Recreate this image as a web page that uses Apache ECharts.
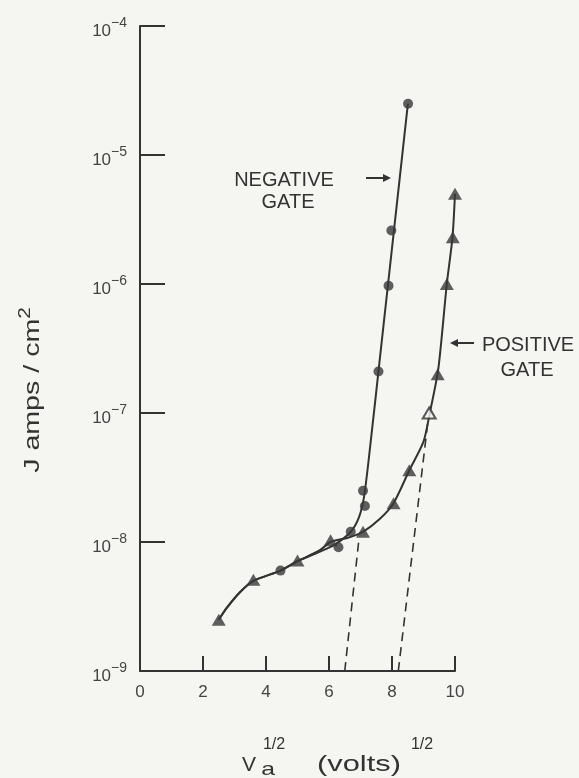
<!DOCTYPE html>
<html>
<head>
<meta charset="utf-8">
<script src="https://cdn.jsdelivr.net/npm/echarts@6/dist/echarts.min.js"></script>
<style>
html,body{margin:0;padding:0;background:#f5f5f2;}
#chart{width:579px;height:778px;}
</style>
</head>
<body>
<div id="chart"></div>
<script>
// decades on the J axis (10^-9 .. 10^-4)
var decades = [-9, -8, -7, -6, -5, -4];
var vTicks = [0, 2, 4, 6, 8, 10];

// drawn curves (V^1/2, J)
var negCurveV = [2.5, 2.76, 3.18, 3.6, 4.46, 5.0, 5.7, 6.2, 6.69, 6.95, 7.12, 7.34, 7.57, 7.875, 8.19, 8.505];
var negCurveJ = [2.5e-9, 3.1e-9, 4.1e-9, 5.0e-9, 6.0e-9, 7.1e-9, 8.4e-9, 9.6e-9, 1.2e-8, 1.55e-8, 2.3e-8, 6.5e-8, 2.1e-7, 1.0e-6, 5.0e-6, 2.5e-5];
var posCurveV = [2.5, 2.76, 3.18, 3.6, 4.46, 5.0, 5.7, 6.05, 6.6, 7.08, 7.6, 8.05, 8.55, 9.0, 9.2, 9.47, 9.74, 9.92, 10.0];
var posCurveJ = [2.5e-9, 3.1e-9, 4.1e-9, 5.0e-9, 6.0e-9, 7.1e-9, 8.6e-9, 1.0e-8, 1.08e-8, 1.2e-8, 1.5e-8, 2.0e-8, 3.6e-8, 6.0e-8, 1.0e-7, 2.2e-7, 1.0e-6, 2.3e-6, 5.0e-6];

// plotted points
var dotV = [4.46, 6.3, 6.69, 7.14, 7.08, 7.57, 7.89, 7.98, 8.51];
var dotJ = [6.0e-9, 9.1e-9, 1.2e-8, 1.9e-8, 2.5e-8, 2.1e-7, 9.7e-7, 2.6e-6, 2.5e-5];
var triV = [2.5, 3.6, 5.0, 6.05, 7.08, 8.05, 8.55, 9.45, 9.74, 9.93, 10.0];
var triJ = [2.5e-9, 5.1e-9, 7.2e-9, 1.03e-8, 1.2e-8, 2.0e-8, 3.6e-8, 2.0e-7, 1.0e-6, 2.3e-6, 5.0e-6];
var openTriV = [9.18];
var openTriJ = [1.0e-7];

// dashed extrapolations
var negDashV = [6.5, 6.95];
var negDashJ = [1e-9, 1.05e-8];
var posDashV = [8.2, 9.15];
var posDashJ = [1e-9, 9e-8];

function pts(xs, ys) {
  return xs.map(function (x, i) { return [x, ys[i]]; });
}

var ink = '#333333';
var paper = '#f5f5f2';
var face = '"Liberation Sans", Arial, sans-serif';

function txt(s, x, y, size, extra) {
  var el = {
    type: 'text', x: x, y: y, z: 10,
    style: {
      text: s, font: size + 'px ' + face, fill: ink,
      align: 'center', verticalAlign: 'middle',
      textAlign: 'center', textVerticalAlign: 'middle'
    }
  };
  if (extra) for (var k in extra) el[k] = extra[k];
  return el;
}

var chart = echarts.init(document.getElementById('chart'));
chart.setOption({
  backgroundColor: paper,
  animation: false,
  grid: { left: 140, right: 124, top: 26, bottom: 107, outerBoundsMode: 'none' },
  xAxis: {
    type: 'value', min: vTicks[0], max: vTicks[vTicks.length - 1], interval: 2,
    axisLine: { lineStyle: { color: ink, width: 2 } },
    axisTick: { inside: true, length: 15, lineStyle: { color: ink, width: 2 } },
    axisLabel: { color: '#444', fontSize: 17, fontFamily: face, margin: 13 },
    splitLine: { show: false }
  },
  yAxis: {
    type: 'log', logBase: 10,
    min: Math.pow(10, decades[0]), max: Math.pow(10, decades[decades.length - 1]),
    axisLine: { lineStyle: { color: ink, width: 2 } },
    axisTick: { inside: true, length: 25, lineStyle: { color: ink, width: 2 } },
    minorTick: { show: false },
    splitLine: { show: false },
    axisLabel: {
      margin: 13,
      padding: [10, 0, 0, 0],
      formatter: function (v) {
        var e = Math.round(Math.log10(v));
        return '{b|10}{e|\u2212' + Math.abs(e) + '}';
      },
      rich: {
        b: { fontSize: 17, fontFamily: face, color: '#444', lineHeight: 30 },
        e: { fontSize: 14, fontFamily: face, color: '#444', lineHeight: 15, verticalAlign: 'top' }
      }
    }
  },
  series: [
    { name: 'NEGATIVE GATE', type: 'line', data: pts(negCurveV, negCurveJ), smooth: 0.25,
      showSymbol: false, lineStyle: { color: ink, width: 2 }, z: 2 },
    { name: 'POSITIVE GATE', type: 'line', data: pts(posCurveV, posCurveJ), smooth: 0.25,
      showSymbol: false, lineStyle: { color: ink, width: 2 }, z: 2 },
    { type: 'line', data: pts(negDashV, negDashJ), showSymbol: false,
      lineStyle: { color: ink, width: 1.6, type: [9, 6] }, z: 1 },
    { type: 'line', data: pts(posDashV, posDashJ), showSymbol: false,
      lineStyle: { color: ink, width: 1.6, type: [9, 6] }, z: 1 },
    { type: 'scatter', data: pts(dotV, dotJ), symbol: 'circle', symbolSize: 10,
      itemStyle: { color: '#383838' }, z: 5 },
    { type: 'scatter', data: pts(triV, triJ), symbol: 'triangle', symbolSize: [14, 12],
      itemStyle: { color: '#383838' }, z: 5 },
    { type: 'scatter', data: pts(openTriV, openTriJ), symbol: 'triangle', symbolSize: [13, 11],
      itemStyle: { color: paper, borderColor: ink, borderWidth: 2 }, z: 5 }
  ],
  graphic: [
    txt('NEGATIVE', 284, 180, 20),
    txt('GATE', 288, 202, 20),
    { type: 'line', shape: { x1: 366, y1: 178, x2: 384, y2: 178 }, style: { stroke: ink, lineWidth: 2 } },
    { type: 'polygon', shape: { points: [[383, 174], [391, 178], [383, 182]] }, style: { fill: ink } },
    txt('POSITIVE', 528, 345, 20),
    txt('GATE', 527, 370, 20),
    { type: 'line', shape: { x1: 458, y1: 343, x2: 474, y2: 343 }, style: { stroke: ink, lineWidth: 2 } },
    { type: 'polygon', shape: { points: [[458, 339], [450, 343], [458, 347]] }, style: { fill: ink } },
    {
      type: 'text', x: 33, y: 390, rotation: Math.PI / 2, scaleX: 1.3, z: 10,
      style: {
        text: '{m|J amps / cm}{s|2}', fill: ink,
        align: 'center', verticalAlign: 'middle', textAlign: 'center', textVerticalAlign: 'middle',
        rich: {
          m: { fontSize: 22, fontFamily: face, fill: ink, color: ink, lineHeight: 30 },
          s: { fontSize: 16, fontFamily: face, fill: ink, color: ink, lineHeight: 18, verticalAlign: 'top' }
        }
      }
    },
    txt('V', 249, 765, 21),
    txt('a', 268, 770, 19, { scaleX: 1.3 }),
    txt('1/2', 274, 745, 16),
    txt('(volts)', 359, 765, 22, { scaleX: 1.4 }),
    txt('1/2', 422, 745, 16)
  ]
});
</script>
</body>
</html>
